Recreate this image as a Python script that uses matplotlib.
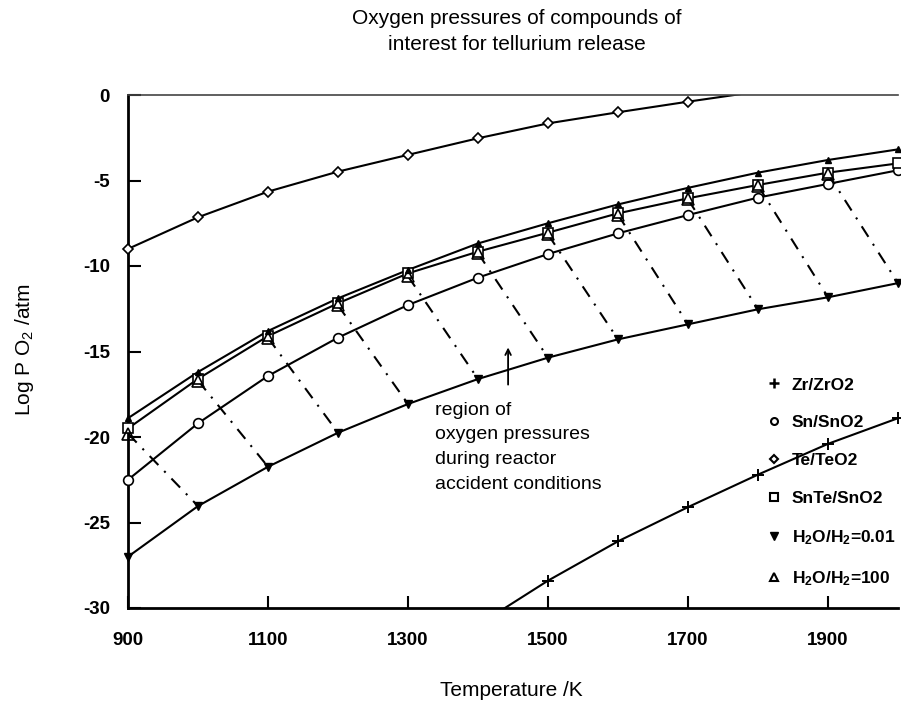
import numpy as np
import matplotlib
matplotlib.use("Agg")
import matplotlib.pyplot as plt
from matplotlib.lines import Line2D

plt.rcParams["font.family"] = ["Liberation Sans", "DejaVu Sans"]
plt.rcParams["mathtext.default"] = "regular"
plt.rcParams["axes.unicode_minus"] = False

# temperatures (K) at which each curve is tabulated
temps = [900, 1000, 1100, 1200, 1300, 1400, 1500, 1600, 1700, 1800, 1900, 2000]

# log pO2 (atm) for each couple
te_teo2 = [-9.0, -7.15, -5.65, -4.48, -3.5, -2.53, -1.66, -1.01, -0.39, 0.2, 0.75, 1.25]
sn_sno2 = [-22.5, -19.2, -16.43, -14.19, -12.28, -10.68, -9.3, -8.09, -7.02, -6.0, -5.2, -4.4]
snte_sno2 = [-19.5, -16.6, -14.1, -12.18, -10.43, -9.16, -8.05, -6.92, -6.04, -5.26, -4.54, -4.0]
h2o_upper = [-18.9, -16.2, -13.8, -11.89, -10.23, -8.68, -7.5, -6.4, -5.43, -4.54, -3.8, -3.18]
h2o_001 = [-27.0, -24.04, -21.74, -19.75, -18.07, -16.61, -15.36, -14.29, -13.41, -12.53, -11.83, -11.0]

zr_temps = [1400, 1500, 1600, 1700, 1800, 1900, 2000]
zr_zro2 = [-31.0, -28.4, -26.1, -24.1, -22.2, -20.4, -18.9]

# H2O/H2 = 100 points (open triangles)
h2o_100_temps = [900, 1000, 1100, 1200, 1300, 1400, 1500, 1600, 1700, 1800, 1900]
h2o_100 = [-19.8, -16.7, -14.2, -12.3, -10.6, -9.25, -8.15, -7.0, -6.1, -5.3, -4.6]

xticks = [900, 1100, 1300, 1500, 1700, 1900]
yticks = [0, -5, -10, -15, -20, -25, -30]

XLIM = (900, 2000)
YLIM = (-30, 0)

fig = plt.figure(figsize=(9.01, 7.10), dpi=100)
ax = fig.add_axes([128 / 901, 102 / 710, 770 / 901, 513 / 710])


def curve(x, y, ls="-", **mk):
    """Line clipped to the axes; markers inside the range drawn unclipped."""
    x = np.asarray(x, float)
    y = np.asarray(y, float)
    if ls != "none":
        ax.plot(x, y, color="black", lw=1.5, ls=ls)
    keep = (x >= XLIM[0]) & (x <= XLIM[1]) & (y >= YLIM[0]) & (y <= YLIM[1])
    ax.plot(x[keep], y[keep], ls="none", clip_on=False, zorder=3, **mk)


curve(temps, te_teo2, marker="D", ms=5, mfc="white", mec="black", mew=1.2)
curve(temps, sn_sno2, marker="o", ms=7, mfc="white", mec="black", mew=1.2)
curve(temps, snte_sno2, marker="s", ms=7.5, mfc="white", mec="black", mew=1.2)
curve(temps, h2o_upper, marker="^", ms=5, mfc="black", mec="black")
curve(temps, h2o_001, marker="v", ms=6, mfc="black", mec="black")
curve(zr_temps, zr_zro2, marker="+", ms=9, mew=1.4, color="black")
curve(h2o_100_temps, h2o_100, ls="none", marker="^", ms=9,
      mfc="none", mec="black", mew=1.2)

# dash-dot hatching across the accident-condition band
low_lookup = dict(zip(temps, h2o_001))
for t, v in zip(h2o_100_temps, h2o_100):
    ax.plot([t, t + 100], [v, low_lookup[t + 100]], color="black", lw=1.5,
            linestyle=(0, (6, 4, 1, 4)))

ax.set_xlim(*XLIM)
ax.set_ylim(*YLIM)
ax.set_xticks(xticks)
ax.set_yticks(yticks)
ax.tick_params(direction="in", length=9, width=1.5, labelsize=13.5)
ax.tick_params(axis="x", pad=17)
ax.tick_params(axis="y", pad=13)
for lab in ax.get_xticklabels() + ax.get_yticklabels():
    lab.set_fontweight("bold")

ax.spines["left"].set_linewidth(2)
ax.spines["bottom"].set_linewidth(2)
ax.spines["top"].set_linewidth(1.2)
ax.spines["top"].set_color("#444444")
ax.spines["right"].set_visible(False)

ax.set_xlabel("Temperature /K", fontsize=15)
ax.set_ylabel("Log P O$_2$ /atm", fontsize=15)
ax.xaxis.set_label_coords((511 - 128) / 770, (608 - 690) / 513)
ax.xaxis.label.set_va("center")
ax.yaxis.set_label_coords((24 - 128) / 770, (608 - 350) / 513)
ax.yaxis.label.set_va("center")

fig.text(517 / 901, 1 - 18 / 710, "Oxygen pressures of compounds of",
         ha="center", va="center", fontsize=15)
fig.text(517 / 901, 1 - 45 / 710, "interest for tellurium release",
         ha="center", va="center", fontsize=15)

ax.annotate("", xy=(1443, -14.6), xytext=(1443, -17.1),
            arrowprops=dict(arrowstyle="->", color="black", lw=1.3))
ax.text(1339, -17.95, "region of\noxygen pressures\nduring reactor\naccident conditions",
        ha="left", va="top", fontsize=14, linespacing=1.58)

handles = [
    Line2D([], [], ls="none", marker="+", ms=7, mew=1.8, color="black"),
    Line2D([], [], ls="none", marker="o", ms=5, mfc="white", mec="black", mew=1.5),
    Line2D([], [], ls="none", marker="D", ms=4.5, mfc="white", mec="black", mew=1.5),
    Line2D([], [], ls="none", marker="s", ms=6, mfc="white", mec="black", mew=1.5),
    Line2D([], [], ls="none", marker="v", ms=6, mfc="black", mec="black"),
    Line2D([], [], ls="none", marker="^", ms=6, mfc="white", mec="black", mew=1.5),
]
labels = ["Zr/ZrO2", "Sn/SnO2", "Te/TeO2", "SnTe/SnO2",
          "H$_2$O/H$_2$=0.01", "H$_2$O/H$_2$=100"]
ax.legend(handles, labels, loc="upper left", bbox_to_anchor=(0.807, 0.48),
          frameon=False, handlelength=1.0, handletextpad=0.55,
          labelspacing=1.3, prop={"weight": "bold", "size": 12.5})

fig.savefig("out.png", dpi=100)
